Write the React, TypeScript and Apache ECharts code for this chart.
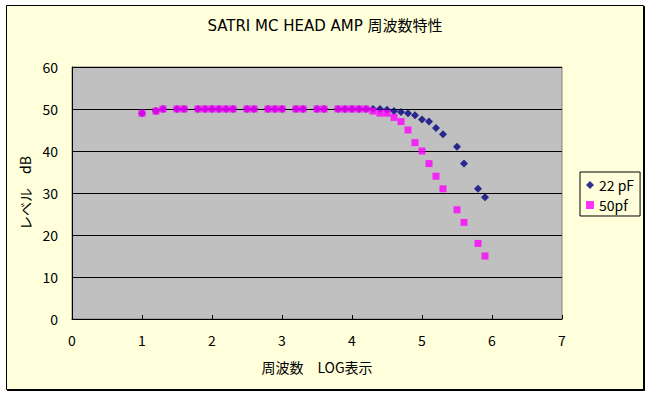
import React, { useEffect, useRef } from "react";
import * as echarts from "echarts";

const titleText = "SATRI MC HEAD AMP 周波数特性";
const xAxisName = "周波数　LOG表示";
const yAxisName = "レベル　dB";
const seriesNames = ["22 pF", "50pf"];

const xTicks = [0, 7, 1];
const yTicks = [0, 60, 10];

const logFreq = [
  1.0, 1.2, 1.3, 1.5, 1.6, 1.8, 1.9, 2.0, 2.1, 2.2, 2.3, 2.5, 2.6, 2.8, 2.9,
  3.0, 3.2, 3.3, 3.5, 3.6, 3.8, 3.9, 4.0, 4.1, 4.2, 4.3, 4.4, 4.5, 4.6, 4.7,
  4.8, 4.9, 5.0, 5.1, 5.2, 5.3, 5.5, 5.6, 5.8, 5.9,
];

const level22pF = [
  49, 49.5, 50, 50, 50, 50, 50, 50, 50, 50, 50, 50, 50, 50, 50,
  50, 50, 50, 50, 50, 50, 50, 50, 50, 50, 50, 50, 49.8, 49.5, 49.3,
  49, 48.5, 47.5, 47, 45.5, 44, 41, 37, 31, 29,
];

const level50pf = [
  49, 49.5, 50, 50, 50, 50, 50, 50, 50, 50, 50, 50, 50, 50, 50,
  50, 50, 50, 50, 50, 50, 50, 50, 50, 50, 49.5, 49, 49, 48, 47,
  45, 42, 40, 37, 34, 31, 26, 23, 18, 15,
];

const FONT = "'Noto Sans CJK JP', 'Noto Sans', sans-serif";
const TITLE_FONT = "'DejaVu Sans', 'Noto Sans CJK JP', sans-serif";

export default function App() {
  const ref = useRef<HTMLDivElement>(null);

  useEffect(() => {
    if (!ref.current) return;
    const chart = echarts.init(ref.current, undefined, { renderer: "svg" });
    const pairs = (ys: number[]) => logFreq.map((x, i) => [x, ys[i]]);
    chart.setOption({
      animation: false,
      backgroundColor: "#ffffff",
      textStyle: { fontFamily: FONT, color: "#000" },
      graphic: [
        {
          type: "rect",
          z: -10,
          silent: true,
          shape: { x: 6.5, y: 5.5, width: 637, height: 384 },
          style: {
            fill: "#FFFFDB",
            stroke: "#000",
            lineWidth: 1,
            shadowColor: "#000",
            shadowOffsetX: 1,
            shadowOffsetY: 1,
            shadowBlur: 0,
          },
        },
      ],
      title: {
        text: titleText,
        left: "center",
        top: 13,
        textStyle: {
          fontFamily: TITLE_FONT,
          fontSize: 15,
          fontWeight: "normal",
          color: "#000",
        },
      },
      legend: {
        orient: "vertical",
        left: 580,
        top: 172,
        padding: [6, 6, 4, 6],
        itemGap: 6,
        itemWidth: 8,
        itemHeight: 8,
        borderColor: "#000",
        borderWidth: 1,
        backgroundColor: "#FFFFDB",
        textStyle: { fontFamily: FONT, fontSize: 14, color: "#000" },
        data: [
          { name: seriesNames[0], icon: "diamond" },
          { name: seriesNames[1], icon: "rect" },
        ],
      },
      grid: {
        left: 72,
        top: 67,
        right: 88,
        bottom: 77,
        show: true,
        backgroundColor: "#C0C0C0",
        borderColor: "#808080",
        borderWidth: 1,
      },
      xAxis: {
        type: "value",
        min: xTicks[0],
        max: xTicks[1],
        interval: xTicks[2],
        name: xAxisName,
        nameLocation: "middle",
        nameGap: 41,
        nameTextStyle: { fontFamily: FONT, fontSize: 14, color: "#000" },
        axisLine: { show: true, lineStyle: { color: "#000", width: 1 } },
        axisTick: { show: true, inside: true, length: 4, lineStyle: { color: "#000" } },
        axisLabel: { fontFamily: FONT, fontSize: 14, color: "#000", margin: 14 },
        splitLine: { show: false },
      },
      yAxis: {
        type: "value",
        min: yTicks[0],
        max: yTicks[1],
        interval: yTicks[2],
        name: yAxisName,
        nameLocation: "middle",
        nameGap: 40,
        nameRotate: 90,
        nameTextStyle: { fontFamily: FONT, fontSize: 14, color: "#000" },
        axisLine: { show: true, lineStyle: { color: "#000", width: 1 } },
        axisTick: { show: true, inside: true, length: 5, lineStyle: { color: "#000" } },
        axisLabel: { fontFamily: FONT, fontSize: 14, color: "#000", margin: 14 },
        splitLine: { show: true, lineStyle: { color: "#000", width: 1 } },
      },
      series: [
        {
          name: seriesNames[0],
          type: "scatter",
          symbol: "diamond",
          symbolSize: 8,
          itemStyle: { color: "#000080" },
          data: pairs(level22pF),
        },
        {
          name: seriesNames[1],
          type: "scatter",
          symbol: "rect",
          symbolSize: 7,
          itemStyle: { color: "#FF00FF" },
          data: pairs(level50pf),
        },
      ],
    });
    return () => chart.dispose();
  }, []);

  return (
    <div
      ref={ref}
      style={{ position: "fixed", left: 0, top: 0, width: 650, height: 396 }}
    />
  );
}
